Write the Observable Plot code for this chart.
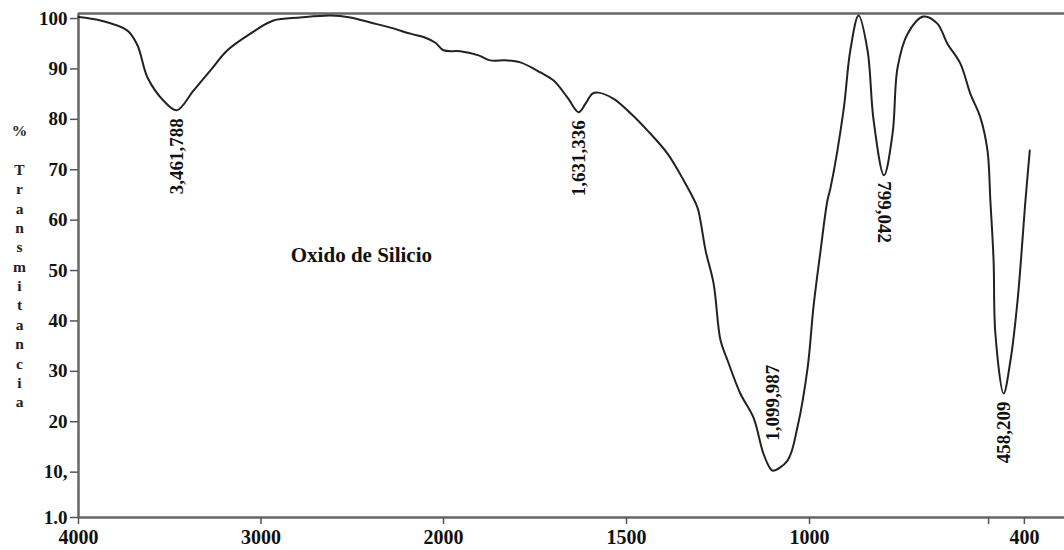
<!DOCTYPE html>
<html><head><meta charset="utf-8">
<script src="https://cdn.jsdelivr.net/npm/d3@7"></script>
<script src="https://cdn.jsdelivr.net/npm/@observablehq/plot@0.6"></script>
<style>body{margin:0;background:#fff} svg{display:block}</style>
</head><body><div id="chart"></div>
<script>
const wavenumber = [4000, 3879, 3732, 3677, 3622, 3534, 3462, 3370, 3277, 3184, 3058, 2932, 2784, 2619, 2510, 2400, 2291, 2181, 2099, 2044, 2000, 1954, 1904, 1872, 1831, 1790, 1735, 1699, 1661, 1631, 1612, 1593, 1577, 1536, 1489, 1443, 1388, 1344, 1306, 1298, 1284, 1262, 1243, 1224, 1189, 1153, 1126, 1107, 1100, 1060, 1033, 1005, 989, 969, 950, 941, 905, 886, 863, 838, 821, 792, 768, 754, 726, 682, 643, 615, 579, 551, 523, 503, 495, 486, 481, 458, 439, 419, 397, 385];
const transmittance = [100.3, 99.6, 97.6, 94.7, 88.3, 83.7, 81.8, 85.7, 89.7, 93.7, 97.0, 99.6, 100.2, 100.6, 100.2, 99.2, 98.2, 97.0, 96.2, 95.2, 93.7, 93.5, 92.7, 91.7, 91.7, 91.3, 89.3, 87.7, 84.3, 81.4, 83.1, 85.1, 85.3, 84.1, 81.2, 77.8, 73.2, 67.9, 62.5, 59.9, 54.0, 47.4, 36.1, 32.2, 25.6, 20.8, 13.7, 10.7, 10.3, 12.3, 18.9, 30.8, 42.7, 54.0, 63.9, 66.5, 81.8, 93.7, 100.6, 93.7, 79.8, 68.9, 77.2, 90.3, 97.0, 100.4, 99.0, 95.0, 91.1, 85.1, 80.4, 73.8, 63.9, 52.0, 37.5, 25.6, 32.1, 44.1, 63.9, 73.8];
const peakWn = [3462, 1631, 1100, 792, 458];
const peakT = [81.8, 81.4, 10.3, 68.9, 25.6];
const peakLabels = ["3,461,788", "1,631,336", "1,099,987", "799,042", "458,209"];
const xTicks = [4000, 3000, 2000, 1500, 1000, 500, 400];
const xTickLabels = ["4000", "3000", "2000", "1500", "1000", "", "400"];
const yTicks = [100, 90, 80, 70, 60, 50, 40, 30, 20, 10, 1];
const yTickLabels = ["100", "90", "80", "70", "60", "50", "40", "30", "20", "10,", "1.0"];
const sampleName = "Oxido de Silicio";
const yAxisLabel = "%\n\nT\nr\na\nn\ns\nm\ni\nt\na\nn\nc\ni\na";

const spectrum = wavenumber.map((w, i) => ({w, t: transmittance[i]}));
const peaks = peakWn.map((w, i) => ({w, t: peakT[i], label: peakLabels[i]}));
const below = peaks.filter((d, i) => i === 0 || i === 1 || i === 4);
const above = peaks.filter((d, i) => i === 2);
const downward = peaks.filter((d, i) => i === 3);

const chart = Plot.plot({
  width: 1064,
  height: 550,
  marginTop: 13,
  marginBottom: 33,
  marginLeft: 78,
  marginRight: 0,
  style: {fontFamily: "'Liberation Serif', 'Times New Roman', serif", fontWeight: "bold", color: "#111", background: "#fff"},
  x: {type: "linear", domain: [4000, 2000, 1000, 288], range: [78, 443, 809, 1064]},
  y: {domain: [1, 101]},
  marks: [
    Plot.ruleY([101], {stroke: "#666", strokeWidth: 2.5}),
    Plot.ruleY([1], {stroke: "#666", strokeWidth: 2.5}),
    Plot.ruleX([4000], {stroke: "#666", strokeWidth: 2.5}),
    Plot.axisX({ticks: xTicks, tickFormat: (d) => xTickLabels[xTicks.indexOf(d)], tickSize: 7, tickPadding: 5, fontSize: 20, stroke: "#555", strokeWidth: 1.5, label: null}),
    Plot.axisY({ticks: yTicks, tickFormat: (d) => yTickLabels[yTicks.indexOf(d)], tickSize: 8, tickPadding: 3, fontSize: 19, stroke: "#555", strokeWidth: 1.5, label: null}),
    Plot.line(spectrum, {x: "w", y: "t", stroke: "#222", strokeWidth: 2, curve: "catmull-rom"}),
    Plot.text(below, {x: "w", y: "t", text: "label", rotate: -90, textAnchor: "end", dy: 8, fontSize: 19, fill: "#111"}),
    Plot.text(above, {x: "w", y: "t", text: "label", rotate: -90, textAnchor: "start", dy: -30, fontSize: 19, fill: "#111"}),
    Plot.text(downward, {x: "w", y: "t", text: "label", rotate: 90, textAnchor: "start", dy: 6, fontSize: 19, fill: "#111"}),
    Plot.text([sampleName], {x: 2450, y: 53, fontSize: 21, fill: "#111"}),
    Plot.text([yAxisLabel], {frameAnchor: "left", dx: -59, lineHeight: 1.25, fontSize: 15.5, fill: "#222", textAnchor: "middle", lineAnchor: "middle"})
  ]
});
document.getElementById("chart").append(chart);
</script>
</body></html>
